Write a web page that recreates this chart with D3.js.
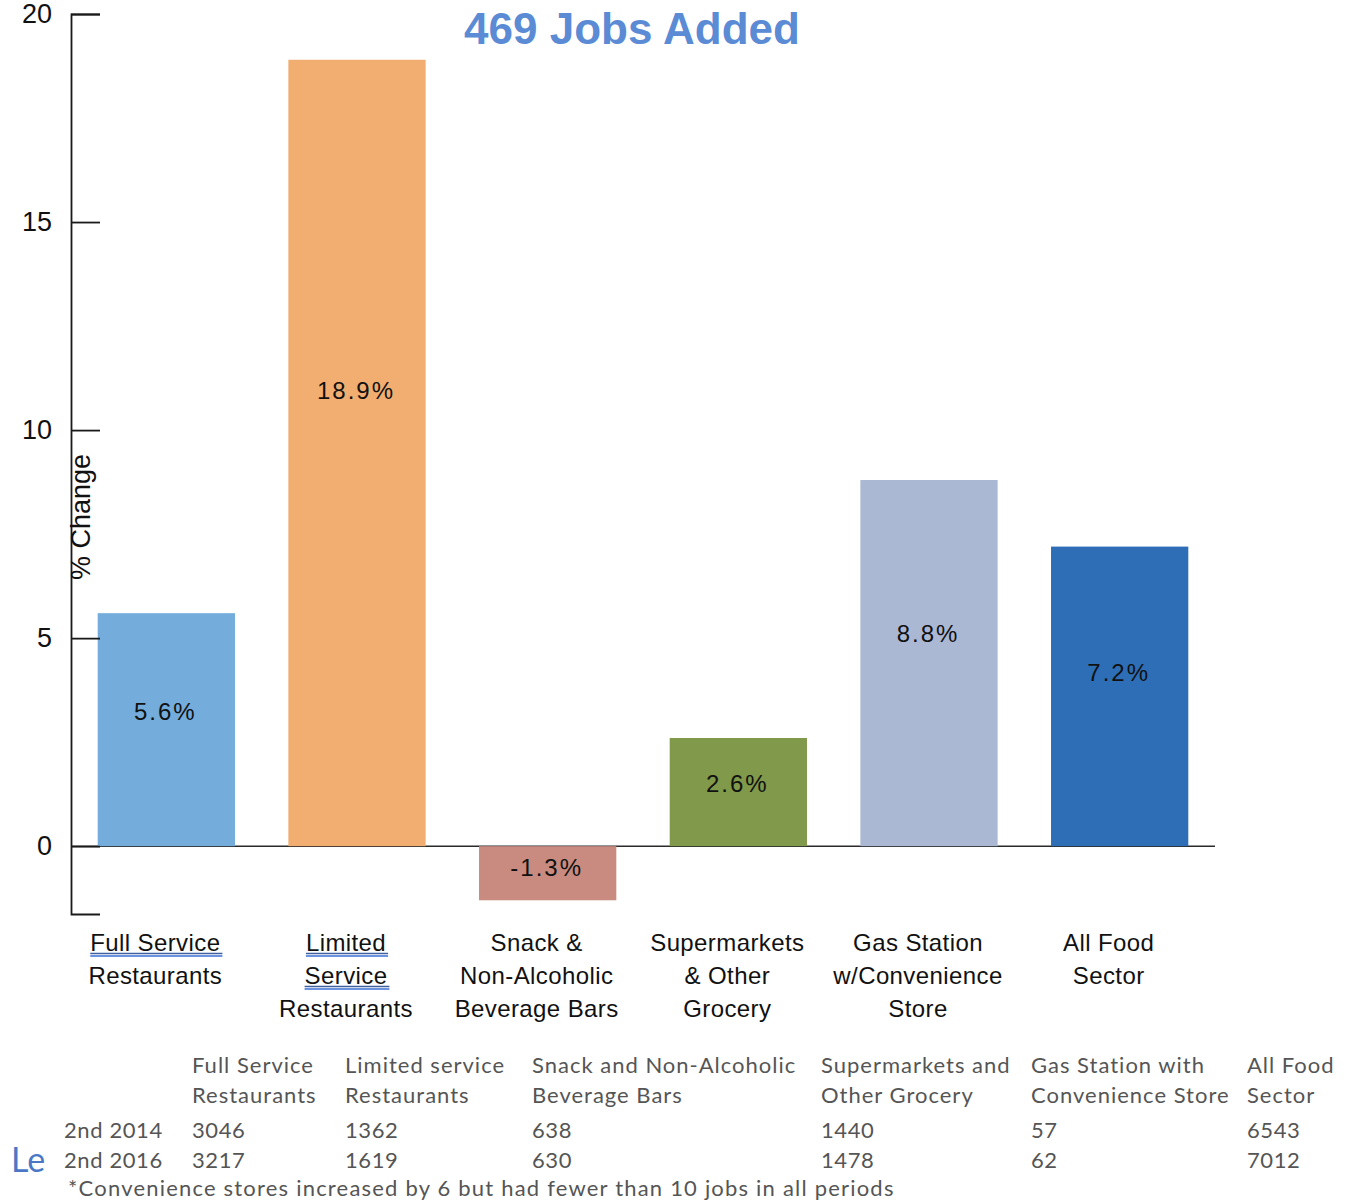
<!DOCTYPE html>
<html>
<head>
<meta charset="utf-8">
<script src="https://cdn.jsdelivr.net/npm/d3@7"></script>
<style>
  html, body { margin: 0; padding: 0; background: #fff; }
  svg { display: block; }
</style>
</head>
<body>
<script>
// Percent change in food-sector jobs by category
const categories = [
  ["Full Service", "Restaurants"],
  ["Limited", "Service", "Restaurants"],
  ["Snack &", "Non-Alcoholic", "Beverage Bars"],
  ["Supermarkets", "& Other", "Grocery"],
  ["Gas Station", "w/Convenience", "Store"],
  ["All Food", "Sector"]
];
const pctChange = [5.6, 18.9, -1.3, 2.6, 8.8, 7.2];
const barColors = ["#74acdb", "#f2ad70", "#c98b7f", "#80994a", "#abb8d4", "#2d6eb6"];
const yTicks = [0, 5, 10, 15, 20];

// Employment table under the chart
const tableHeaders = [
  ["Full Service", "Restaurants"],
  ["Limited service", "Restaurants"],
  ["Snack and Non-Alcoholic", "Beverage Bars"],
  ["Supermarkets and", "Other Grocery"],
  ["Gas Station with", "Convenience Store"],
  ["All Food", "Sector"]
];
const periods = ["2nd 2014", "2nd 2016"];
const jobs2014 = [3046, 1362, 638, 1440, 57, 6543];
const jobs2016 = [3217, 1619, 630, 1478, 62, 7012];

const W = 1358, H = 1201;
const svg = d3.select("body").append("svg").attr("width", W).attr("height", H);

const x = d3.scaleBand().domain(d3.range(categories.length))
  .range([71, 1215]).paddingInner(0.28).paddingOuter(0.14);
const y = d3.scaleLinear().domain([-1.63, 20]).range([914, 14]);

// Title
svg.append("text")
  .attr("x", 632).attr("y", 44)
  .attr("text-anchor", "middle")
  .style("font-family", "'Liberation Sans', Arial, sans-serif")
  .style("font-weight", "bold").style("font-size", "44px")
  .style("fill", "#5b8bd4")
  .text("469 Jobs Added");

// Zero baseline
svg.append("line")
  .attr("x1", 71).attr("x2", 1215)
  .attr("y1", y(0)).attr("y2", y(0))
  .attr("stroke", "#2a2a2a").attr("stroke-width", 1.6);

// Bars
svg.append("g").selectAll("rect").data(pctChange).join("rect")
  .attr("x", (d, i) => x(i))
  .attr("width", x.bandwidth())
  .attr("y", d => y(Math.max(0, d)))
  .attr("height", d => Math.abs(y(d) - y(0)))
  .attr("fill", (d, i) => barColors[i]);

// Value labels inside bars
svg.append("g").selectAll("text").data(pctChange).join("text")
  .attr("x", (d, i) => x(i) + x.bandwidth() / 2 - 1)
  .attr("y", d => y(d * (d < 0 ? 0.4 : 0.58)))
  .attr("dy", "0.36em")
  .attr("text-anchor", "middle")
  .style("font-family", "'Liberation Sans', Arial, sans-serif")
  .style("font-size", "24px").style("letter-spacing", "2px")
  .style("fill", "#111")
  .text(d => d.toFixed(1) + "%");

// Y axis with inward ticks
const yAxis = d3.axisLeft(y).tickValues(yTicks)
  .tickSizeInner(-29).tickSizeOuter(-29).tickPadding(19)
  .tickFormat(d3.format("d"));
const ga = svg.append("g").attr("transform", "translate(71,0)").call(yAxis);
ga.selectAll("path, line").attr("stroke", "#1a1a1a").attr("stroke-width", 1.8);
ga.selectAll("text")
  .style("font-family", "'Liberation Sans', Arial, sans-serif")
  .style("font-size", "27px").style("fill", "#111");

// Y axis title
svg.append("text")
  .attr("transform", "translate(90,517) rotate(-90)")
  .attr("text-anchor", "middle")
  .style("font-family", "'Liberation Sans', Arial, sans-serif")
  .style("font-size", "27px").style("fill", "#111")
  .text("% Change");

// Category labels under the axis
const underlined = { "0-0": true, "1-0": true, "1-1": true };
const catG = svg.append("g");
categories.forEach((lines, i) => {
  const cx = x(i) + x.bandwidth() / 2 - 11;
  lines.forEach((ln, j) => {
    const yb = 951 + j * 33;
    const t = catG.append("text")
      .attr("x", cx).attr("y", yb)
      .attr("text-anchor", "middle")
      .style("font-family", "'Liberation Sans', Arial, sans-serif")
      .style("font-size", "24px").style("letter-spacing", "0.4px")
      .style("fill", "#111")
      .text(ln);
    if (underlined[i + "-" + j]) {
      const bb = t.node().getBBox();
      catG.append("line").attr("x1", bb.x).attr("x2", bb.x + bb.width + 2)
        .attr("y1", yb + 2.5).attr("y2", yb + 2.5)
        .attr("stroke", "#3f5f9e").attr("stroke-width", 1.3);
      catG.append("line").attr("x1", bb.x).attr("x2", bb.x + bb.width + 2)
        .attr("y1", yb + 5).attr("y2", yb + 5)
        .attr("stroke", "#3b6fd4").attr("stroke-width", 1.5);
    }
  });
});

// Table of job counts
const tableFont = "Lato, 'Open Sans', sans-serif";
const colX = [192, 345, 532, 821, 1031, 1247];
const tg = svg.append("g")
  .style("font-family", tableFont).style("font-size", "22px").style("fill", "#555");

tableHeaders.forEach((hdr, i) => {
  hdr.forEach((ln, j) => {
    tg.append("text").attr("x", colX[i]).attr("y", 1073 + j * 30)
      .style("letter-spacing", "1px").text(ln);
  });
});

// Blue text at the left edge, cut off by the table
svg.append("text").attr("x", 11).attr("y", 1172)
  .style("font-family", tableFont).style("font-size", "34px").style("fill", "#4a78c6")
  .text("Le");

[jobs2014, jobs2016].forEach((row, r) => {
  const yy = 1138 + r * 30;
  tg.append("text").attr("x", 64).attr("y", yy).style("letter-spacing", "0.6px").text(periods[r]);
  row.forEach((v, i) => {
    tg.append("text").attr("x", colX[i]).attr("y", yy).style("letter-spacing", "0.6px").text(v);
  });
});

tg.append("text").attr("x", 68).attr("y", 1196)
  .style("letter-spacing", "1.2px")
  .text("*Convenience stores increased by 6 but had fewer than 10 jobs in all periods");
</script>
</body>
</html>
